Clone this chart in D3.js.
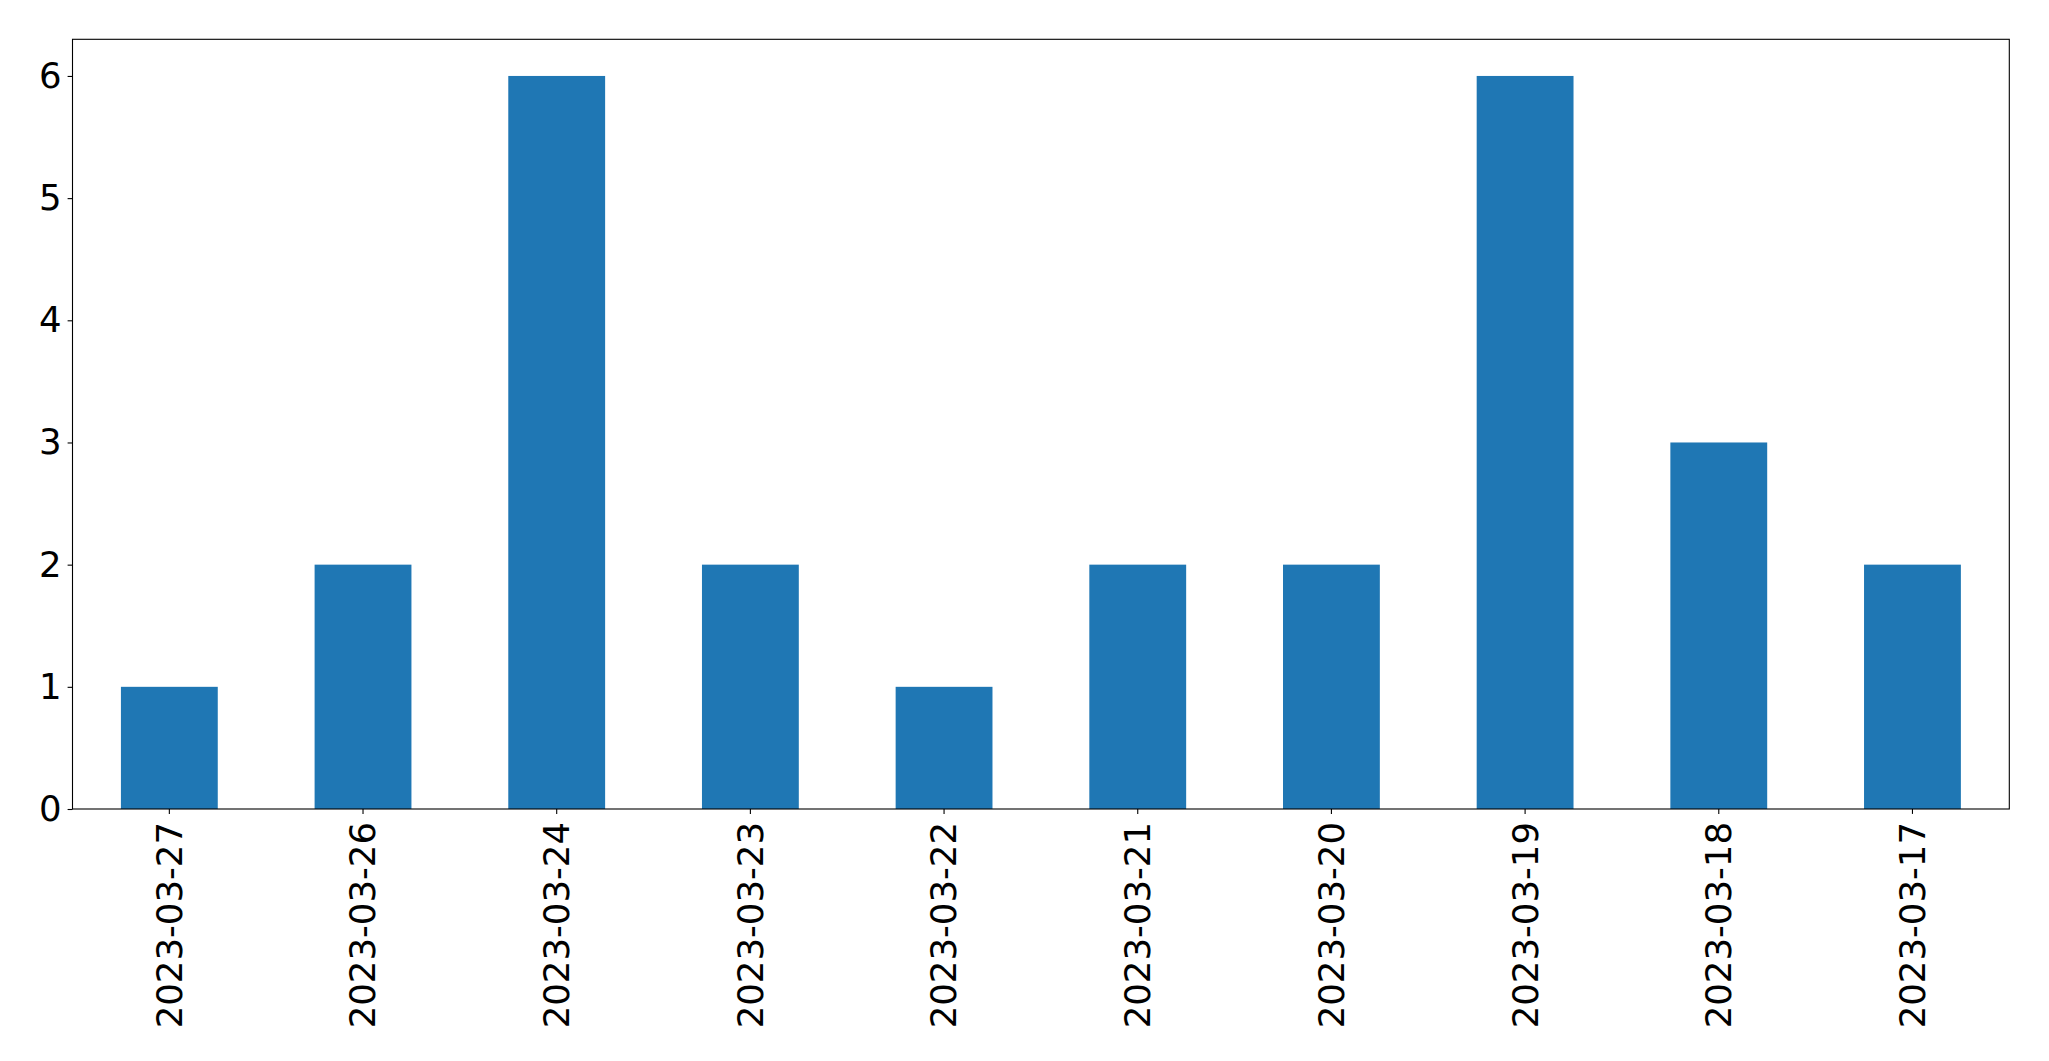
<!DOCTYPE html>
<html><head><meta charset="utf-8">
<script src="https://cdn.jsdelivr.net/npm/d3@7"></script>
<style>html,body{margin:0;padding:0;background:#fff;}</style>
</head><body>
<script>
const categories = ["2023-03-27","2023-03-26","2023-03-24","2023-03-23","2023-03-22","2023-03-21","2023-03-20","2023-03-19","2023-03-18","2023-03-17"];
const values = [1,2,6,2,1,2,2,6,3,2];
const yTicks = [0,1,2,3,4,5,6];

const W = 2049, H = 1061;
const m = {left:72.5, top:39.3, right:2009.3, bottom:809};
const svg = d3.select("body").append("svg").attr("width",W).attr("height",H);

const x = d3.scaleBand().domain(categories).range([m.left,m.right]).paddingInner(0.5).paddingOuter(0.25);
const y = d3.scaleLinear().domain([0,6.3]).range([m.bottom,m.top]);

svg.append("g").selectAll("rect").data(values).join("rect")
  .attr("x",(d,i)=>x(categories[i]))
  .attr("width",x.bandwidth())
  .attr("y",d=>y(d))
  .attr("height",d=>y(0)-y(d))
  .attr("fill","#1f77b4");

const font = "DejaVu Sans";
const xAxis = svg.append("g").attr("transform",`translate(0,${m.bottom})`)
  .call(d3.axisBottom(x).tickSize(4.9).tickPadding(4.9).tickSizeOuter(0));
xAxis.select(".domain").remove();
xAxis.selectAll("line").attr("stroke","#000").attr("stroke-width",1.1);
xAxis.selectAll("text")
  .attr("font-family",font).attr("font-size",35.5).attr("fill","#000")
  .attr("transform","rotate(-90)")
  .attr("text-anchor","end")
  .attr("x",-13).attr("y",0).attr("dy","0.35em");

const yAxis = svg.append("g").attr("transform",`translate(${m.left},0)`)
  .call(d3.axisLeft(y).tickValues(yTicks).tickFormat(d3.format("d")).tickSize(4.9).tickPadding(6).tickSizeOuter(0));
yAxis.select(".domain").remove();
yAxis.selectAll("line").attr("stroke","#000").attr("stroke-width",1.1);
yAxis.selectAll("text").attr("font-family",font).attr("font-size",35.5).attr("fill","#000");

svg.append("rect").attr("x",m.left).attr("y",m.top)
  .attr("width",m.right-m.left).attr("height",m.bottom-m.top)
  .attr("fill","none").attr("stroke","#000").attr("stroke-width",1.1);
</script>
</body></html>
